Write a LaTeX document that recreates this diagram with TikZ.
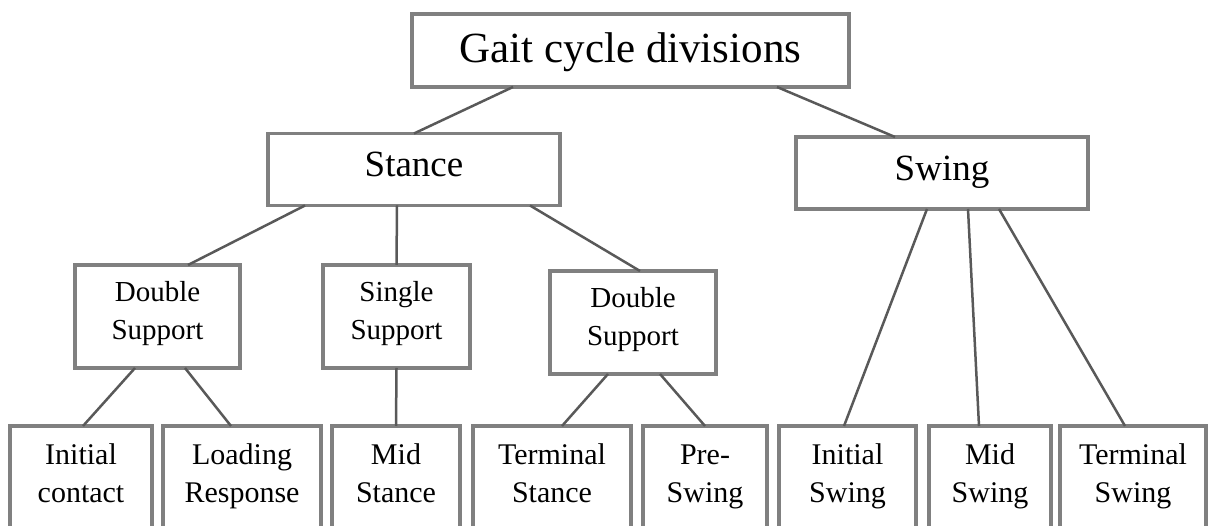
\documentclass[tikz,border=0pt]{standalone}
\usepackage{fontspec}
\setmainfont{Liberation Serif}
\usepackage{tikz}
\definecolor{boxgray}{RGB}{128,128,128}
\definecolor{linegray}{RGB}{89,89,89}

\begin{document}
\begin{tikzpicture}[x=1pt,y=1pt]
		\tikzset{box/.style = {shape=rectangle, draw=boxgray, line width=3.5pt, fill=white, inner sep=0pt, outer sep=0pt, align=center}}
		\tikzset{root/.style = {box, minimum width=437pt, minimum height=73pt, font=\fontsize{43}{52}\selectfont, text height=30pt, text depth=5pt}}
		\tikzset{phase/.style = {box, minimum width=292pt, minimum height=72pt, font=\fontsize{37}{44}\selectfont, text height=26pt, text depth=11pt}}
		\tikzset{support/.style = {box, minimum height=103pt, font=\fontsize{29}{38}\selectfont, text height=58pt, text depth=11pt}}
		\tikzset{event/.style = {box, anchor=north, minimum height=108pt, font=\fontsize{30}{38}\selectfont, text height=59pt, text depth=13pt}}
		\tikzset{edge/.style = {draw=linegray, line width=2.5pt}}

		\useasboundingbox (0,0) rectangle (1210,526);

		\node[root] (G_0) at (630.5,475.5) {Gait cycle divisions};

		\node[phase] (P_1) at (414,356.5) {Stance};
		\node[phase] (P_2) at (942,353) {Swing};

		\node[support, minimum width=165pt] (D_1) at (157.5,209.5) {Double\\Support};
		\node[support, minimum width=147pt] (D_2) at (396.5,209.5) {Single\\Support};
		\node[support, minimum width=166pt] (D_3) at (633,203.5) {Double\\Support};

		\node[event, minimum width=142pt] (E_1) at (81,100) {Initial\\contact};
		\node[event, minimum width=158pt] (E_2) at (242,100) {Loading\\Response};
		\node[event, minimum width=128pt] (E_3) at (396,100) {Mid\\Stance};
		\node[event, minimum width=158pt] (E_4) at (552,100) {Terminal\\Stance};
		\node[event, minimum width=124pt] (E_5) at (705,100) {Pre-\\Swing};
		\node[event, minimum width=137pt] (E_6) at (847.5,100) {Initial\\Swing};
		\node[event, minimum width=122pt] (E_7) at (990,100) {Mid\\Swing};
		\node[event, minimum width=146pt] (E_8) at (1133,100) {Terminal\\Swing};

		\draw[edge] ([xshift=-117.5pt]G_0.south) to (P_1.north);
		\draw[edge] ([xshift=146.5pt]G_0.south) to ([xshift=-47pt]P_2.north);

		\draw[edge] ([xshift=-109pt]P_1.south) to ([xshift=30.5pt]D_1.north);
		\draw[edge] ([xshift=-17pt]P_1.south) to (D_2.north);
		\draw[edge] ([xshift=116pt]P_1.south) to ([xshift=7pt]D_3.north);

		\draw[edge] ([xshift=-22.5pt]D_1.south) to ([xshift=2pt]E_1.north);
		\draw[edge] ([xshift=27.5pt]D_1.south) to ([xshift=-11pt]E_2.north);
		\draw[edge] (D_2.south) to (E_3.north);
		\draw[edge] ([xshift=-25pt]D_3.south) to ([xshift=10pt]E_4.north);
		\draw[edge] ([xshift=27pt]D_3.south) to (E_5.north);

		\draw[edge] ([xshift=-15pt]P_2.south) to ([xshift=-3.5pt]E_6.north);
		\draw[edge] ([xshift=26pt]P_2.south) to ([xshift=-11pt]E_7.north);
		\draw[edge] ([xshift=57pt]P_2.south) to ([xshift=-8pt]E_8.north);


	\end{tikzpicture}
\end{document}
